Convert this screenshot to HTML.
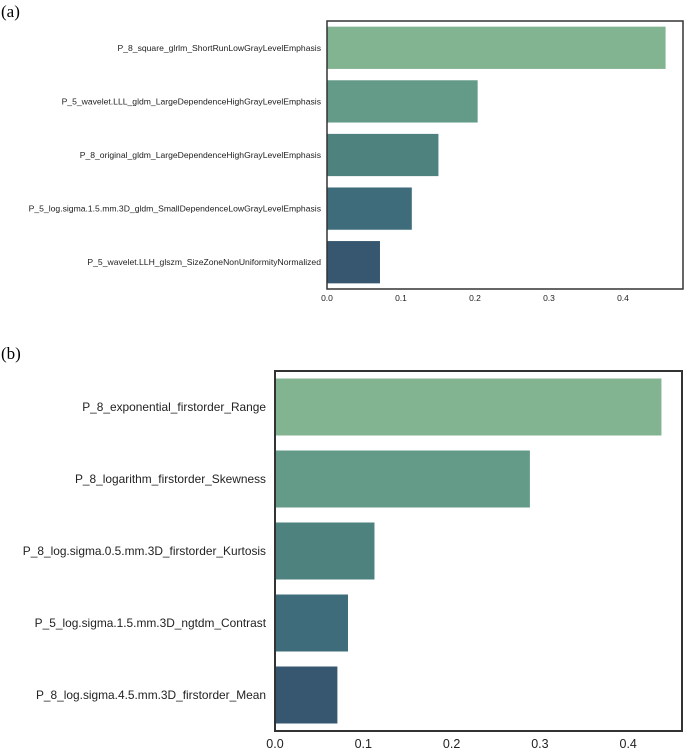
<!DOCTYPE html>
<html><head><meta charset="utf-8"><style>
body{margin:0;background:#fff;font-family:"Liberation Sans",sans-serif}
svg text{font-family:"Liberation Sans",sans-serif}
</style></head><body>
<svg id="c" width="685" height="750" xmlns="http://www.w3.org/2000/svg">
<text x="1" y="17" font-size="17" style="font-family:'Liberation Serif',serif">(a)</text>
<text x="1" y="359" font-size="17" style="font-family:'Liberation Serif',serif">(b)</text>
</svg>
<script>
const catsA=["P_8_square_glrlm_ShortRunLowGrayLevelEmphasis","P_5_wavelet.LLL_gldm_LargeDependenceHighGrayLevelEmphasis","P_8_original_gldm_LargeDependenceHighGrayLevelEmphasis","P_5_log.sigma.1.5.mm.3D_gldm_SmallDependenceLowGrayLevelEmphasis","P_5_wavelet.LLH_glszm_SizeZoneNonUniformityNormalized"];
const valsA=[0.458,0.204,0.151,0.115,0.072];
const catsB=["P_8_exponential_firstorder_Range","P_8_logarithm_firstorder_Skewness","P_8_log.sigma.0.5.mm.3D_firstorder_Kurtosis","P_5_log.sigma.1.5.mm.3D_ngtdm_Contrast","P_8_log.sigma.4.5.mm.3D_firstorder_Mean"];
const valsB=[0.438,0.289,0.113,0.083,0.071];
const ticks=[0,0.1,0.2,0.3,0.4];
const tickLabels=["0.0","0.1","0.2","0.3","0.4"];
const colors=["#83b491","#639a88","#4d827f","#3e6c7a","#37566f"];
const svg=document.getElementById('c');
const NS="http://www.w3.org/2000/svg";
function mk(t,a){const e=document.createElementNS(NS,t);for(const k in a)e.setAttribute(k,a[k]);svg.appendChild(e);return e;}
function panel(p,cats,vals,cfg){
  const x=v=>cfg.l+v*cfg.scale;
  const band=(cfg.b-cfg.t)/cats.length;
  cats.forEach((c,i)=>{
    const y0=cfg.t+i*band+band*0.1;
    const r=mk('rect',{x:x(0),y:y0,width:x(vals[i])-x(0),height:band*0.8,fill:colors[i],stroke:'#fff','stroke-width':0.6});
    
    
    const t=mk('text',{x:cfg.l-cfg.lp,y:cfg.t+(i+0.5)*band+cfg.fs*0.35,'text-anchor':'end','font-size':cfg.fs,fill:'#222'});
    t.textContent=c;
    
    
  });
  const f=mk('rect',{x:cfg.l,y:cfg.t,width:cfg.r-cfg.l,height:cfg.b-cfg.t,fill:'none',stroke:'#333','stroke-width':cfg.sw});
  
  
  ticks.forEach((v,i)=>{
    const t=mk('text',{x:x(v),y:cfg.b+cfg.ty,'text-anchor':'middle','font-size':cfg.tfs,fill:'#222'});
    t.textContent=tickLabels[i];
    
    
  });
}
panel('a',catsA,valsA,{l:327,r:683,t:21,b:289,scale:740,fs:8.6,lp:6,sw:1.5,ty:12,tfs:8.5});
panel('b',catsB,valsB,{l:275,r:682,t:371,b:731,scale:883,fs:11.9,lp:9,sw:2,ty:17,tfs:12.5});
</script>
</body></html>
